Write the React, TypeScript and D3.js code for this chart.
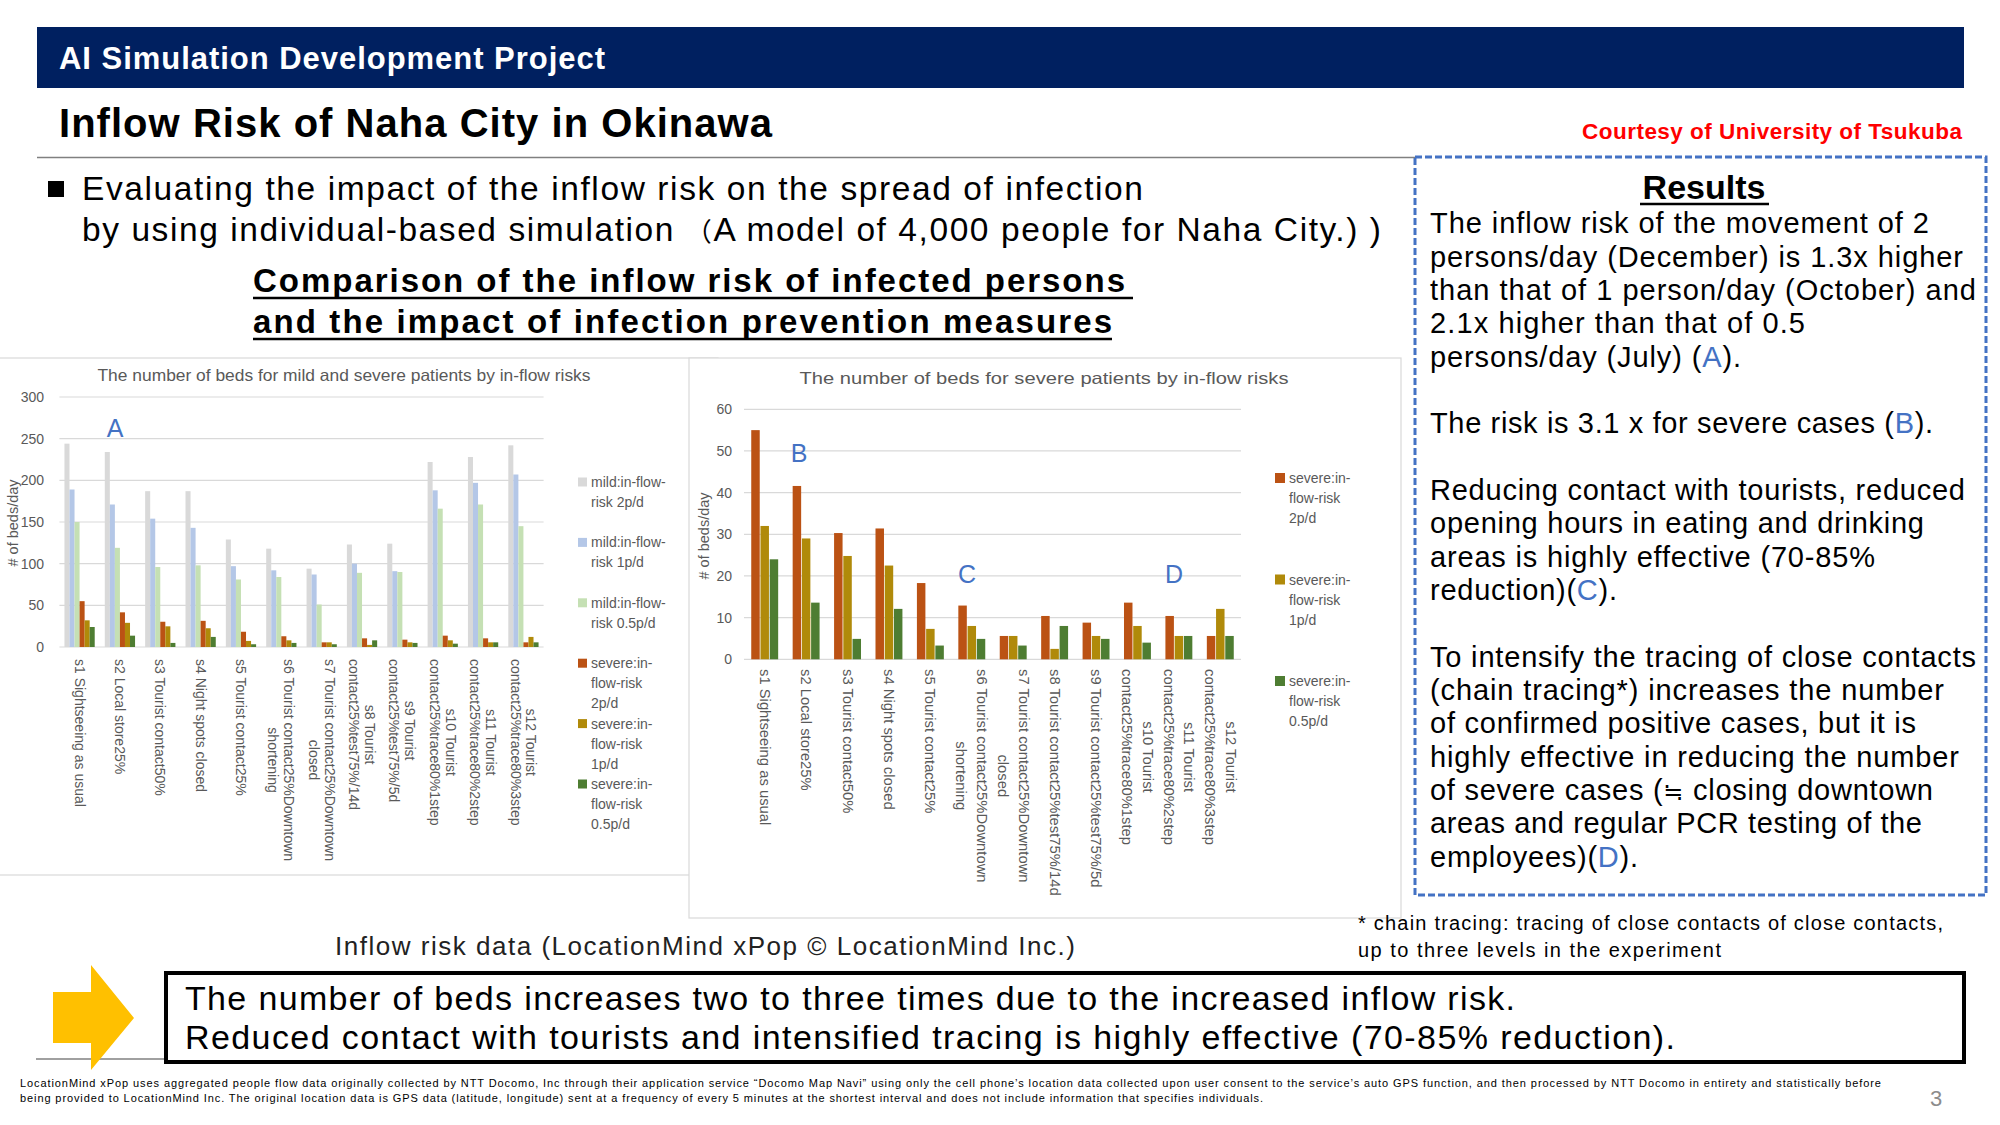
import React, { useEffect, useRef } from "react";
import * as d3 from "d3";

// ---------- DATA ----------
const categories = ["s1", "s2", "s3", "s4", "s5", "s6", "s7", "s8", "s9", "s10", "s11", "s12"];

const leftTickLabels: string[][] = [
  ["s1 Sightseeing as usual"],
  ["s2 Local store25%"],
  ["s3 Tourist contact50%"],
  ["s4 Night spots closed"],
  ["s5 Tourist contact25%"],
  ["s6 Tourist contact25%Downtown", "shortening"],
  ["s7 Tourist contact25%Downtown", "closed"],
  ["s8 Tourist", "contact25%test75%/14d"],
  ["s9 Tourist", "contact25%test75%/5d"],
  ["s10 Tourist", "contact25%trace80%1step"],
  ["s11 Tourist", "contact25%trace80%2step"],
  ["s12 Tourist", "contact25%trace80%3step"],
];

const rightTickLabels: string[][] = [
  ["s1 Sightseeing as usual"],
  ["s2 Local store25%"],
  ["s3 Tourist contact50%"],
  ["s4 Night spots closed"],
  ["s5 Tourist contact25%"],
  ["s6 Tourist contact25%Downtown", "shortening"],
  ["s7 Tourist contact25%Downtown", "closed"],
  ["s8 Tourist contact25%test75%/14d"],
  ["s9 Tourist contact25%test75%/5d"],
  ["s10 Tourist", "contact25%trace80%1step"],
  ["s11 Tourist", "contact25%trace80%2step"],
  ["s12 Tourist", "contact25%trace80%3step"],
];

const mild2p = [244, 234, 187, 187, 129, 118, 94, 123, 124, 222, 228, 242];
const mild1p = [189, 171, 154, 143, 97, 92, 87, 100, 91, 188, 197, 207];
const mild05p = [150, 119, 96, 98, 81, 84, 51, 89, 90, 166, 171, 145];
const severe2p = [55, 41.6, 30.3, 31.4, 18.3, 12.9, 5.6, 10.4, 8.8, 13.6, 10.4, 5.6];
const severe1p = [32, 29, 24.8, 22.5, 7.3, 8, 5.6, 2.5, 5.6, 8, 5.6, 12.1];
const severe05p = [24, 13.6, 4.9, 12.1, 3.3, 4.9, 3.3, 8, 4.9, 4, 5.6, 5.6];

const leftYTicks = [0, 50, 100, 150, 200, 250, 300];
const rightYTicks = [0, 10, 20, 30, 40, 50, 60];

const leftLegendLines = [
  ["mild:in-flow-", "risk 2p/d"],
  ["mild:in-flow-", "risk 1p/d"],
  ["mild:in-flow-", "risk 0.5p/d"],
  ["severe:in-", "flow-risk", "2p/d"],
  ["severe:in-", "flow-risk", "1p/d"],
  ["severe:in-", "flow-risk", "0.5p/d"],
];
const rightLegendLines = [
  ["severe:in-", "flow-risk", "2p/d"],
  ["severe:in-", "flow-risk", "1p/d"],
  ["severe:in-", "flow-risk", "0.5p/d"],
];

const leftTitle = "The number of beds for mild and severe patients by in-flow risks";
const rightTitle = "The number of beds for severe patients by in-flow risks";
const yAxisTitle = "# of beds/day";

// "|" toggles blue letters, "^" wraps a symbol drawn a bit smaller
const resultsLines: [string, number, number][] = [
  ["The inflow risk of the movement of 2", 233, 499],
  ["persons/day (December) is 1.3x higher", 267, 533],
  ["than that of 1 person/day (October) and", 300, 546],
  ["2.1x higher than that of 0.5", 333, 375],
  ["persons/day (July) (|A|).", 367, 311],
  ["The risk is 3.1 x for severe cases (|B|).", 433, 503],
  ["Reducing contact with tourists, reduced", 500, 535],
  ["opening hours in eating and drinking", 533, 494],
  ["areas is highly effective (70-85%", 567, 445],
  ["reduction)(|C|).", 600, 187],
  ["To intensify the tracing of close contacts", 667, 546],
  ["(chain tracing*) increases the number", 700, 514],
  ["of confirmed positive cases, but it is", 733, 486],
  ["highly effective in reducing the number", 767, 529],
  ["of severe cases (^≒^ closing downtown", 800, 503],
  ["areas and regular PCR testing of the", 833, 492],
  ["employees)(|D|).", 867, 208],
];

// ---------- STYLE ----------
const FONT = "'Liberation Sans', Arial, 'DejaVu Sans', 'Noto Sans CJK JP', sans-serif";
const AXIS = "#595959";
const GRID = "#d9d9d9";
const BLUE = "#4472c4";
const C_MILD2 = "#d9d9d9";
const C_MILD1 = "#b4c7e7";
const C_MILD05 = "#c5e0b4";
const C_SEV2 = "#bb5214";
const C_SEV1 = "#b08a0a";
const C_SEV05 = "#4e7d32";

type ChartCfg = {
  x0: number; x1: number; yZero: number; yTop: number; maxV: number; ticks: number[];
  series: number[][]; colors: string[]; padInner: number; subPad: number;
  labels: string[][]; labelTop: number; lineH: number; labelSize: number;
  tickRight: number; title: string; titleX: number; titleY: number; titleLen: number;
  yTitleX: number; yTitleY: number;
  legendX: number; legendY0: number; legendStep: number; legendLines: string[][]; legendSq: number;
  letters: [string, number, number][];
};

function drawChart(g: d3.Selection<SVGGElement, unknown, null, undefined>, c: ChartCfg) {
  g.selectAll("*").remove();
  const x = d3.scaleBand<string>().domain(categories).range([c.x0, c.x1])
    .paddingInner(c.padInner).paddingOuter(c.padInner / 2);
  const xs = d3.scaleBand<number>().domain(d3.range(c.series.length)).range([0, x.bandwidth()])
    .paddingInner(c.subPad);
  const y = d3.scaleLinear().domain([0, c.maxV]).range([c.yZero, c.yTop]);

  g.selectAll("line.grid").data(c.ticks).join("line")
    .attr("x1", c.x0).attr("x2", c.x1)
    .attr("y1", (d) => y(d)).attr("y2", (d) => y(d))
    .attr("stroke", GRID).attr("stroke-width", 1.2);

  g.selectAll("text.tick").data(c.ticks).join("text")
    .attr("x", c.tickRight).attr("y", (d) => y(d))
    .attr("text-anchor", "end").attr("dominant-baseline", "central")
    .attr("font-size", 14).attr("fill", AXIS).attr("font-family", FONT)
    .text((d) => String(d));

  c.series.forEach((vals, si) => {
    g.append("g").selectAll("rect").data(vals).join("rect")
      .attr("x", (_, i) => (x(categories[i]) as number) + (xs(si) as number))
      .attr("width", xs.bandwidth())
      .attr("y", (d) => y(d))
      .attr("height", (d) => c.yZero - y(d))
      .attr("fill", c.colors[si]);
  });

  g.append("text").attr("x", c.titleX).attr("y", c.titleY).attr("text-anchor", "middle")
    .attr("font-size", 16.5).attr("fill", AXIS).attr("font-family", FONT)
    .attr("textLength", c.titleLen).attr("lengthAdjust", "spacingAndGlyphs").text(c.title);

  g.append("text").attr("transform", `translate(${c.yTitleX},${c.yTitleY}) rotate(-90)`)
    .attr("text-anchor", "middle").attr("dominant-baseline", "central")
    .attr("font-size", 14.5).attr("fill", AXIS).attr("font-family", FONT).text(yAxisTitle);

  categories.forEach((cat, i) => {
    const cx = (x(cat) as number) - (x.step() * c.padInner) / 2 + x.step() / 2;
    const lines = c.labels[i];
    const lg = g.append("g").attr("transform", `translate(${cx},${c.labelTop}) rotate(90)`);
    const n = lines.length;
    const texts = lines.map((ln, k) =>
      lg.append("text").attr("x", 0).attr("y", (k - (n - 1) / 2) * c.lineH)
        .attr("dominant-baseline", "central")
        .attr("font-size", c.labelSize).attr("fill", AXIS).attr("font-family", FONT).text(ln)
    );
    const widths = texts.map((t) => (t.node() as SVGTextElement).getComputedTextLength());
    const maxW = Math.max(...widths);
    texts.forEach((t, k) => t.attr("x", (maxW - widths[k]) / 2));
  });

  c.legendLines.forEach((lines, i) => {
    const yc = c.legendY0 + c.legendStep * i;
    g.append("rect").attr("x", c.legendX).attr("y", yc - c.legendSq / 2)
      .attr("width", c.legendSq).attr("height", c.legendSq).attr("fill", c.colors[i]);
    lines.forEach((ln, k) => {
      g.append("text").attr("x", c.legendX + c.legendSq + 4).attr("y", yc + k * 20)
        .attr("dominant-baseline", "central").attr("font-size", 14).attr("fill", AXIS)
        .attr("font-family", FONT).text(ln);
    });
  });

  c.letters.forEach(([t, lx, ly]) => {
    g.append("text").attr("x", lx).attr("y", ly).attr("text-anchor", "middle")
      .attr("font-size", 25).attr("fill", BLUE).attr("font-family", FONT).text(t);
  });
}

const T = (p: any) => (
  <text
    x={p.x}
    y={p.y}
    fontSize={p.size}
    fontWeight={p.weight || "normal"}
    fill={p.fill || "#000"}
    textAnchor={p.anchor || "start"}
    fontFamily={FONT}
    textLength={p.len}
    lengthAdjust={p.len ? "spacing" : undefined}
  >
    {p.children}
  </text>
);

function renderRich(s: string) {
  const out: any[] = [];
  let blue = false;
  let small = false;
  let buf = "";
  let key = 0;
  const flush = () => {
    if (buf) {
      out.push(
        <tspan key={key++} fill={blue ? BLUE : "#000"} fontSize={small ? 24 : undefined}>{buf}</tspan>
      );
      buf = "";
    }
  };
  for (const ch of s) {
    if (ch === "|") { flush(); blue = !blue; }
    else if (ch === "^") { flush(); small = !small; }
    else buf += ch;
  }
  flush();
  return out;
}

export default function App() {
  const leftRef = useRef<SVGGElement>(null);
  const rightRef = useRef<SVGGElement>(null);

  useEffect(() => {
    document.body.style.margin = "0";
    drawChart(d3.select(leftRef.current as SVGGElement), {
      x0: 59.4, x1: 543.6, yZero: 647, yTop: 397, maxV: 300, ticks: leftYTicks,
      series: [mild2p, mild1p, mild05p, severe2p, severe1p, severe05p],
      colors: [C_MILD2, C_MILD1, C_MILD05, C_SEV2, C_SEV1, C_SEV05],
      padInner: 0.25, subPad: 0,
      labels: leftTickLabels, labelTop: 659, lineH: 15.8, labelSize: 14,
      tickRight: 44, title: leftTitle, titleX: 344, titleY: 381, titleLen: 493,
      yTitleX: 13, yTitleY: 523,
      legendX: 578, legendY0: 482, legendStep: 60.4, legendLines: leftLegendLines, legendSq: 9,
      letters: [["A", 115, 437]],
    });
    drawChart(d3.select(rightRef.current as SVGGElement), {
      x0: 744, x1: 1241, yZero: 659.3, yTop: 409.3, maxV: 60, ticks: rightYTicks,
      series: [severe2p, severe1p, severe05p],
      colors: [C_SEV2, C_SEV1, C_SEV05],
      padInner: 0.35, subPad: 0.08,
      labels: rightTickLabels, labelTop: 669, lineH: 20.7, labelSize: 14.8,
      tickRight: 732, title: rightTitle, titleX: 1044, titleY: 384, titleLen: 489,
      yTitleX: 704, yTitleY: 536,
      legendX: 1275, legendY0: 478, legendStep: 101.5, legendLines: rightLegendLines, legendSq: 10,
      letters: [["B", 799, 462], ["C", 967, 583], ["D", 1174, 583]],
    });
  }, []);

  return (
    <div style={{ position: "absolute", left: 0, top: 0, width: 2000, height: 1125, background: "#fff" }}>
      <svg width={2000} height={1125} style={{ display: "block" }}>
        <rect x={0} y={0} width={2000} height={1125} fill="#fff" />
        {/* header */}
        <rect x={37} y={27} width={1927} height={61} fill="#002060" />
        <T x={59} y={69} size={31} weight="bold" fill="#fff" len={546}>AI Simulation Development Project</T>
        <T x={59} y={137} size={40} weight="bold" len={713}>Inflow Risk of Naha City in Okinawa</T>
        <T x={1962} y={139} size={22.5} weight="bold" fill="#ff0000" anchor="end" len={380}>Courtesy of University of Tsukuba</T>
        <line x1={37} x2={1415} y1={157.5} y2={157.5} stroke="#808080" strokeWidth={1.5} />

        {/* bullet */}
        <rect x={48} y={181} width={16} height={16} fill="#000" />
        <T x={82} y={200} size={33.5} len={1061}>Evaluating the impact of the inflow risk on the spread of infection</T>
        <text x={82} y={241} fontSize={33.5} fontFamily={FONT} fill="#000" textLength={1299} lengthAdjust="spacing">
          by using individual-based simulation <tspan fontSize={26}>（</tspan>A model of 4,000 people for Naha City.) )
        </text>
        <T x={253} y={292} size={33} weight="bold" len={872}>Comparison of the inflow risk of infected persons</T>
        <line x1={253} x2={1133} y1={298} y2={298} stroke="#000" strokeWidth={2.5} />
        <T x={253} y={333} size={33} weight="bold" len={859}>and the impact of infection prevention measures</T>
        <line x1={253} x2={1112} y1={339} y2={339} stroke="#000" strokeWidth={2.5} />

        {/* chart boxes */}
        <rect x={-2} y={358} width={720} height={517} fill="#fff" stroke={GRID} strokeWidth={1.2} />
        <g ref={leftRef} />
        <rect x={689} y={358} width={712} height={560} fill="#fff" stroke={GRID} strokeWidth={1.2} />
        <g ref={rightRef} />

        {/* results box */}
        <rect x={1415} y={157} width={571} height={738} fill="#fff" stroke={BLUE} strokeWidth={3} strokeDasharray="7 3" />
        <T x={1704} y={199} size={34} weight="bold" anchor="middle">Results</T>
        <line x1={1640} x2={1769} y1={204} y2={204} stroke="#000" strokeWidth={2.5} />
        {resultsLines.map(([s, yy, len], i) => (
          <text key={i} x={1430} y={yy} fontSize={29} fontFamily={FONT} fill="#000"
            textLength={len} lengthAdjust="spacing">
            {renderRich(s)}
          </text>
        ))}

        {/* footnote + source */}
        <T x={1358} y={930} size={20} len={585}>* chain tracing: tracing of close contacts of close contacts,</T>
        <T x={1358} y={957} size={20} len={363}>up to three levels in the experiment</T>
        <T x={335} y={955} size={26} fill="#222" len={740}>Inflow risk data (LocationMind xPop © LocationMind Inc.)</T>

        {/* conclusion */}
        <line x1={36} x2={1964} y1={1059} y2={1059} stroke="#808080" strokeWidth={1.5} />
        <polygon points="53,992 91,992 91,965 134,1018 91,1070 91,1043 53,1043" fill="#ffc000" />
        <rect x={166} y={973} width={1798} height={89} fill="#fff" stroke="#000" strokeWidth={4} />
        <T x={185} y={1010} size={34} len={1330}>The number of beds increases two to three times due to the increased inflow risk.</T>
        <T x={185} y={1049} size={34} len={1490}>Reduced contact with tourists and intensified tracing is highly effective (70-85% reduction).</T>

        {/* footer */}
        <T x={20} y={1087} size={11} len={1861}>LocationMind xPop uses aggregated people flow data originally collected by NTT Docomo, Inc through their application service “Docomo Map Navi” using only the cell phone’s location data collected upon user consent to the service’s auto GPS function, and then processed by NTT Docomo in entirety and statistically before</T>
        <T x={20} y={1102} size={11} len={1243}>being provided to LocationMind Inc. The original location data is GPS data (latitude, longitude) sent at a frequency of every 5 minutes at the shortest interval and does not include information that specifies individuals.</T>
        <T x={1936} y={1106} size={22} fill="#8c8c8c" anchor="middle">3</T>
      </svg>
    </div>
  );
}
